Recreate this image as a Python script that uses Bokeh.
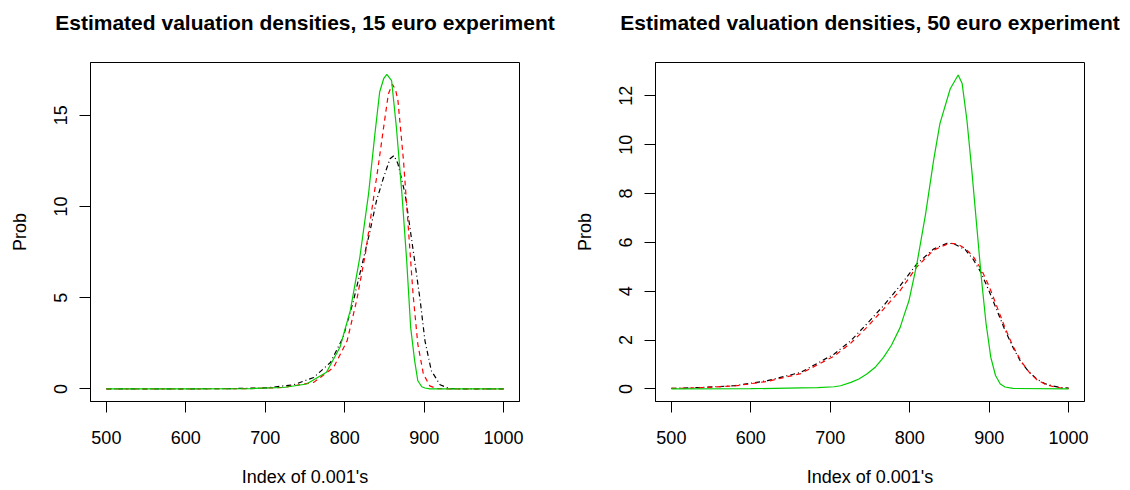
from bokeh.plotting import figure
from bokeh.layouts import row
from bokeh.models import FixedTicker, Range1d
from bokeh.embed import file_html
from bokeh.resources import INLINE

# ---- data: 15 euro experiment ----
g15_x = [500, 600, 681, 723, 752, 777, 794, 807, 819, 830, 838, 844, 849, 853, 859, 865, 872, 878, 883, 888, 892, 897, 901, 907, 950, 1000]
g15_y = [0, 0.003, 0.02, 0.08, 0.27, 0.91, 2.28, 4.29, 7.21, 10.69, 13.98, 16.27, 17.0, 17.24, 16.9, 14.35, 10.69, 7.03, 3.37, 1.55, 0.45, 0.12, 0.05, 0.0, 0, 0]

r15_x = [500, 600, 680, 723, 761, 786, 803, 815, 826, 834, 842, 849, 855, 860, 864, 867, 874, 880, 886, 892, 899, 907, 916, 930, 1000]
r15_y = [0, 0.003, 0.02, 0.08, 0.36, 1.18, 2.64, 4.84, 7.4, 9.78, 12.15, 14.35, 16.18, 16.69, 16.4, 15.8, 12.5, 8.86, 5.2, 2.46, 0.82, 0.17, 0.02, 0, 0]

k15_x = [500, 600, 660, 702, 736, 761, 782, 798, 811, 823, 832, 840, 849, 857, 862, 867, 876, 882, 888, 895, 901, 909, 920, 932, 950, 1000]
k15_y = [0, 0.005, 0.02, 0.06, 0.23, 0.63, 1.45, 2.83, 4.84, 7.03, 8.68, 10.32, 11.6, 12.61, 12.79, 12.34, 10.69, 8.86, 7.03, 4.84, 2.64, 1.0, 0.23, 0.02, 0, 0]

# ---- data: 50 euro experiment ----
k50_x = [500, 537, 579, 621, 663, 705, 726, 746, 767, 788, 809, 830, 847, 855, 870, 880, 890, 900, 910, 920, 930, 940, 950, 960, 970, 980, 990, 1000]
k50_y = [0.02, 0.06, 0.13, 0.34, 0.68, 1.43, 1.98, 2.66, 3.41, 4.23, 5.12, 5.73, 5.96, 5.95, 5.7, 5.3, 4.75, 4.0, 3.2, 2.4, 1.7, 1.1, 0.7, 0.4, 0.22, 0.12, 0.06, 0.03]

r50_x = [500, 537, 579, 621, 663, 705, 726, 746, 767, 788, 809, 830, 850, 860, 870, 880, 890, 900, 910, 920, 930, 940, 950, 960, 970, 980, 990, 1000]
r50_y = [0.02, 0.05, 0.12, 0.31, 0.63, 1.35, 1.88, 2.52, 3.27, 4.03, 5.0, 5.68, 5.97, 5.93, 5.75, 5.42, 4.9, 4.2, 3.35, 2.5, 1.75, 1.15, 0.7, 0.38, 0.2, 0.1, 0.04, 0.02]

g50_x = [500, 600, 663, 684, 705, 713, 726, 736, 746, 757, 767, 777, 788, 792, 799, 809, 820, 830, 838, 851, 861, 866, 872, 878, 884, 890, 896, 902, 908, 914, 920, 930, 1000]
g50_y = [0, 0.01, 0.04, 0.05, 0.09, 0.13, 0.27, 0.41, 0.61, 0.9, 1.29, 1.79, 2.52, 2.93, 3.61, 5.12, 7.17, 9.35, 10.86, 12.29, 12.85, 12.5, 11.0, 9.0, 6.8, 4.6, 2.7, 1.3, 0.55, 0.2, 0.08, 0.02, 0]

x_ticks = [500, 600, 700, 800, 900, 1000]
y_ticks_15 = [0, 5, 10, 15]
y_ticks_50 = [0, 2, 4, 6, 8, 10, 12]

titles = ["Estimated valuation densities, 15 euro experiment",
          "Estimated valuation densities, 50 euro experiment"]
x_label = "Index of 0.001's"
y_label = "Prob"

FONT = "Liberation Sans"
GREEN = "#00CD00"
FW, FH = 429, 339


def make_panel(title, series, yticks, ymax, left, right):
    p = figure(frame_width=FW, frame_height=FH,
               min_border_left=left, min_border_right=right,
               min_border_top=62, min_border_bottom=88,
               x_range=Range1d(480, 1020),
               y_range=Range1d(-0.04 * ymax, 1.04 * ymax),
               output_backend="svg", toolbar_location=None,
               background_fill_color="white", border_fill_color="white")
    # trailing blank line lifts the title text away from the frame
    p.title.text = title + "\n"
    p.title.align = "center"
    p.title.text_font = FONT
    p.title.text_font_size = "21px"
    p.title.text_font_style = "bold"
    p.title.text_color = "black"
    p.title.standoff = 12

    p.xgrid.visible = False
    p.ygrid.visible = False
    p.outline_line_color = "black"
    p.outline_line_width = 1
    p.outline_line_alpha = 1

    xa = p.below[0]
    ya = p.left[0]
    for ax in (xa, ya):
        ax.axis_line_color = "black"
        ax.major_tick_line_color = "black"
        ax.major_tick_in = 0
        ax.major_tick_out = 11
        ax.minor_tick_line_color = None
        ax.major_label_text_font = FONT
        ax.major_label_text_font_size = "18px"
        ax.major_label_text_color = "black"
        ax.axis_label_text_font = FONT
        ax.axis_label_text_font_size = "18px"
        ax.axis_label_text_font_style = "normal"
        ax.axis_label_text_color = "black"

    xa.ticker = FixedTicker(ticks=x_ticks)
    xa.axis_label = x_label
    xa.major_label_standoff = 18
    xa.axis_label_standoff = 20

    ya.ticker = FixedTicker(ticks=yticks)
    ya.axis_label = y_label
    ya.major_label_orientation = "vertical"
    ya.major_label_standoff = 12
    ya.axis_label_standoff = 22

    (kx, ky), (rx, ry), (gx, gy) = series
    p.line(kx, ky, line_color="black", line_width=1.2, line_dash="5 3 1 3")
    p.line(rx, ry, line_color="red", line_width=1.2, line_dash="5 4")
    p.line(gx, gy, line_color=GREEN, line_width=1.2)
    return p


p1 = make_panel(titles[0], [(k15_x, k15_y), (r15_x, r15_y), (g15_x, g15_y)],
                y_ticks_15, 17.2, 90, 46)
p2 = make_panel(titles[1], [(k50_x, k50_y), (r50_x, r50_y), (g50_x, g50_y)],
                y_ticks_50, 12.85, 90, 45)

layout = row(p1, p2)
open("out.html", "w").write(file_html(layout, INLINE))
